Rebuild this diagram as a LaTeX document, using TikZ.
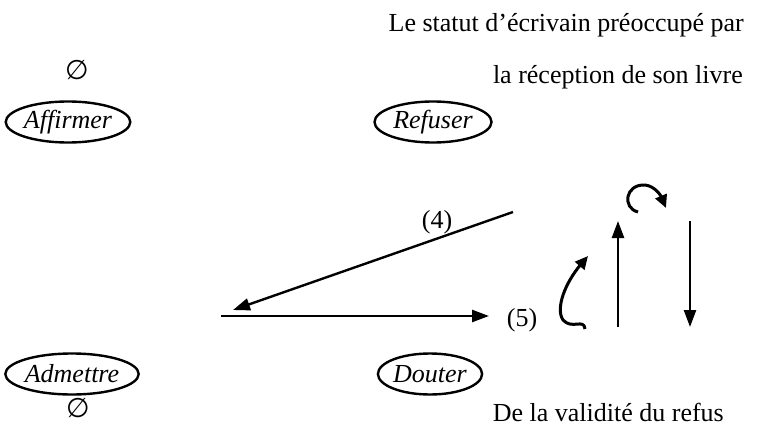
\documentclass[tikz,border=0pt]{standalone}
\usepackage{fontspec}
\setmainfont{Liberation Serif}
\newfontfamily\symf{DejaVu Sans}
\usetikzlibrary{shapes.geometric,arrows.meta}
\begin{document}
\begin{tikzpicture}[x=1pt,y=-1pt,
  every node/.style={font=\fontsize{26}{30}\selectfont, inner sep=0pt},
  oval/.style={draw, ellipse, line width=2.4pt, minimum height=41pt, font=\fontsize{26}{30}\selectfont\itshape},
  arr/.style={line width=2.4pt, -{Triangle[length=17pt,width=12pt]}},
  curv/.style={line width=3pt, -{Triangle[length=13pt,width=12pt]}},
  nul/.style={font=\fontsize{27}{30}\selectfont}]
\useasboundingbox (0,0) rectangle (758,428);
% texts
\node[anchor=base east] (t1) at (744,32) {Le statut d’écrivain préoccupé par};
\node[anchor=base east] (t2) at (743,84) {la réception de son livre};
\node[anchor=base east] (t3) at (724,421) {De la validité du refus};
\node[nul] (e1) at (77,70) {\symf ∅};
\node[nul] (e2) at (78,408) {\symf ∅};
% ellipses
\node[oval, minimum width=122pt] (aff) at (68,122) {Affirmer};
\node[oval, minimum width=117pt] (ref) at (433,122) {Refuser};
\node[oval, minimum width=131pt] (adm) at (72,374) {Admettre};
\node[oval, minimum width=100pt] (dou) at (430,374) {Douter};
% arrows
\coordinate (a4s) at (513,212);
\coordinate (a4e) at (233,310);
\draw[arr] (a4s) -- (a4e);
\node (l4) at (437,222) {(4)};
\coordinate (a5s) at (221,316);
\coordinate (a5e) at (489,316);
\draw[arr] (a5s) -- (a5e);
\node (l5) at (522,320) {(5)};
% curly arrow
\coordinate (cs) at (585,329);
\coordinate (ce) at (588,256);
\draw[curv] (cs) .. controls (584,318) and (572,330) .. (563,320) .. controls (555,308) and (566,282) .. (ce);
% vertical arrows
\coordinate (us) at (618,327);
\coordinate (ue) at (618,221);
\draw[arr] (us) -- (ue);
\coordinate (ds) at (690,221);
\coordinate (de) at (690,327);
\draw[arr] (ds) -- (de);
% top curved arrow
\coordinate (ts) at (638,212);
\coordinate (te) at (666,208);
\draw[curv] (ts) .. controls (622,208) and (625,184) .. (645,185) .. controls (655,186) and (661,196) .. (te);
\end{tikzpicture}
\end{document}
